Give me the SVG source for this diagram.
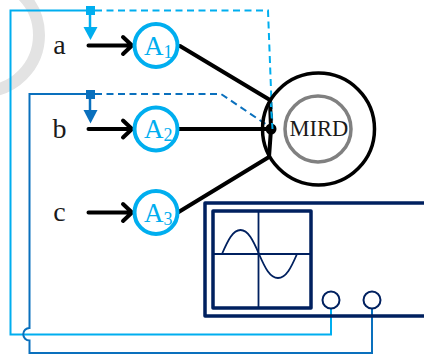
<svg xmlns="http://www.w3.org/2000/svg" width="424" height="354" viewBox="0 0 424 354">
<defs>
<style>
.t{font-family:"Liberation Serif",serif;fill:#1a1a1a}
.a{font-family:"Liberation Serif",serif;fill:#00aeef}
.bk{fill:none;stroke:#000;stroke-width:4;stroke-linecap:round;stroke-linejoin:round}
.amm{fill:#fff;stroke:#00aeef;stroke-width:4}
.nv{fill:none;stroke:#00205f;stroke-linejoin:round}
.lb{fill:none;stroke:#00aeef;stroke-width:2}
.db{fill:none;stroke:#0a70bd;stroke-width:2}
.d{stroke-dasharray:7 4.500}
</style>
</defs>
<circle id="watermark" cx="-17.500" cy="35" r="56.500" fill="none" stroke="#e3e3e3" stroke-width="12"/>
<g id="connectors">
<path class="lb" d="M331 309V334.500H10.500V10.500H90"/>
<path class="db" d="M372 309V353H29.500V340.500A6 6 0 0 1 29.500 328V94H90"/>
<path class="lb d" d="M95 10.500H268L272.500 129"/>
<path class="db d" d="M95 94H221L270 127"/>
<path class="lb" d="M90 10V28" style="stroke-width:2.500"/>
<path class="db" d="M90 94V111" style="stroke-width:2.500"/>
<path class="bk" d="M88.500 45.500H131M123 37L132 45.500L123 54"/>
<path class="bk" d="M88.500 129H131M123 120.500L132 129L123 137.500"/>
<path class="bk" d="M88.500 212.500H131M123 204L132 212.500L123 221"/>
<path class="bk" d="M180 46L270 100L271 129"/>
<path class="bk" d="M178 129H271"/>
<path class="bk" d="M177 213L269 157L271 129"/>
<circle cx="271" cy="129" r="5.500" fill="#000"/>
<path class="lb d" d="M270.500 100L272.500 129"/>
<rect x="86" y="6" width="9" height="9" fill="#00aeef"/>
<path d="M83.500 27H97.500L90.500 40Z" fill="#00aeef"/>
<rect x="86" y="90" width="9" height="9" fill="#0a70bd"/>
<path d="M83.500 110H97.500L90.500 123.500Z" fill="#0a70bd"/>
</g>
<g id="a"><text class="t" x="59.500" y="54" font-size="28" text-anchor="middle">a</text></g>
<g id="b"><text class="t" x="59.500" y="138" font-size="28" text-anchor="middle">b</text></g>
<g id="c"><text class="t" x="59.500" y="220.500" font-size="28" text-anchor="middle">c</text></g>
<g id="A1"><circle class="amm" cx="156" cy="45.500" r="21.500"/><text class="a" x="144" y="54.500" font-size="27">A<tspan font-size="18" dy="3">1</tspan></text></g>
<g id="A2"><circle class="amm" cx="156" cy="129" r="21.500"/><text class="a" x="144" y="138" font-size="27">A<tspan font-size="18" dy="3">2</tspan></text></g>
<g id="A3"><circle class="amm" cx="156" cy="212.500" r="21.500"/><text class="a" x="144" y="221.500" font-size="27">A<tspan font-size="18" dy="3">3</tspan></text></g>
<g id="MIRD">
<circle cx="318.500" cy="129" r="56" fill="none" stroke="#000" stroke-width="3.500"/>
<circle cx="318" cy="129" r="33" fill="none" stroke="#808080" stroke-width="3.500"/>
<text class="t" x="319" y="136" font-size="22.500" text-anchor="middle">MIRD</text>
</g>
<g id="oscilloscope">
<path class="nv" stroke-width="3.500" d="M424 203H205V316H424"/>
<rect class="nv" stroke-width="3.500" x="213" y="211" width="98" height="97"/>
<path class="nv" stroke-width="1.800" d="M258.500 211V308M213 254H311"/>
<path class="nv" stroke-width="1.800" d="M222 254C228 240 233 230 240.500 230C248 230 253 240 259 254C265 268 270 278 278 278C286 278 291 268 297 254"/>
<circle class="nv" stroke-width="2" cx="331" cy="300" r="8.500"/>
<circle class="nv" stroke-width="2" cx="372" cy="300" r="8.500"/>
</g>
</svg>
